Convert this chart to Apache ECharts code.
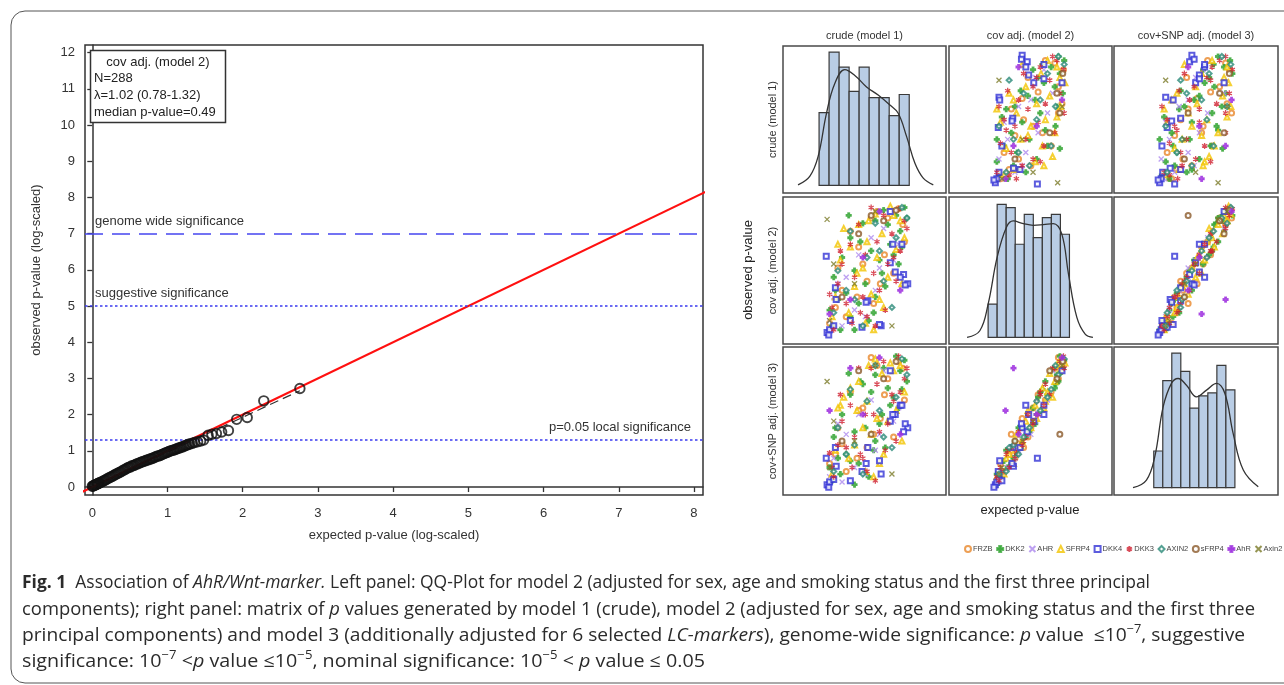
<!DOCTYPE html>
<html><head><meta charset="utf-8">
<script src="https://cdn.jsdelivr.net/npm/echarts@6/dist/echarts.min.js"></script>
<style>html,body{margin:0;padding:0;background:#fff}#c{width:1284px;height:685px}</style>
</head><body><div id="c"></div>
<script>
// ---------------- DATA ----------------
// QQ plot (model 2): expected vs observed -log10(p)
const qqExpected = [0.00,0.01,0.02,0.03,0.04,0.05,0.06,0.07,0.08,0.09,0.10,0.12,0.14,0.16,0.18,0.20,0.22,0.24,0.26,0.28,0.30,0.32,0.34,0.36,0.38,0.40,0.42,0.44,0.46,0.48,0.50,0.52,0.54,0.56,0.58,0.60,0.62,0.64,0.66,0.68,0.70,0.72,0.74,0.76,0.78,0.80,0.82,0.84,0.86,0.88,0.90,0.92,0.94,0.96,0.98,1.00,1.02,1.04,1.06,1.08,1.10,1.12,1.14,1.16,1.18,1.20,1.22,1.24,1.26,1.28,1.30,1.33,1.36,1.40,1.44,1.48,1.54,1.59,1.65,1.72,1.81,1.92,2.06,2.28,2.76];
const qqObserved = [0.02,0.03,0.04,0.05,0.06,0.07,0.08,0.09,0.10,0.11,0.12,0.14,0.16,0.18,0.20,0.23,0.25,0.27,0.29,0.31,0.34,0.36,0.38,0.40,0.42,0.45,0.47,0.49,0.52,0.54,0.55,0.58,0.59,0.60,0.63,0.64,0.66,0.68,0.69,0.71,0.72,0.74,0.75,0.77,0.78,0.79,0.82,0.83,0.85,0.86,0.87,0.89,0.91,0.93,0.95,0.96,0.98,1.00,1.01,1.02,1.04,1.05,1.07,1.08,1.10,1.11,1.13,1.15,1.16,1.18,1.19,1.21,1.23,1.25,1.27,1.30,1.43,1.46,1.48,1.52,1.56,1.87,1.92,2.38,2.72];
const qqXTicks = [0,1,2,3,4,5,6,7,8];
const qqYTicks = [0,1,2,3,4,5,6,7,8,9,10,11,12];
const identityLine = [[-0.2,-0.2],[8.4,8.4]];
const fitLine = [[0,0],[2.76,2.66]];
const genomeWideLevel = 7;
const suggestiveLevel = 5;
const localLevel = 1.3;
const infoLines = ['cov adj. (model 2)','N=288','λ=1.02 (0.78-1.32)','median p-value=0.49'];

// Histograms on the diagonal (counts per bin)
const hist1Counts = [24,44,39,31,39,29,29,23,30];
const hist2Counts = [10,40,39,28,37,30,36,37,31];
const hist3Counts = [12,35,44,38,26,30,31,40,32];
const dens1 = [[-2.10,0.2],[-0.93,3.0],[-0.10,9.5],[0.74,23.8],[1.57,33.6],[2.57,38.2],[3.57,36.3],[4.74,32.5],[5.90,29.8],[7.07,26.5],[7.90,23.8],[8.74,16.1],[9.57,7.3],[10.40,2.4],[11.40,0.2]];
const dens2 = [[-2.33,0],[-0.92,2.0],[0.00,10.0],[1.00,24.1],[2.04,33.2],[2.78,35.0],[3.89,34.2],[5.00,33.7],[6.10,33.9],[7.20,34.2],[8.15,31.1],[8.89,19.1],[9.82,6.0],[10.74,1.0],[11.60,0]];
const dens3 = [[-2.30,0],[-0.81,2.5],[0.11,10.1],[1.04,26.4],[1.96,34.1],[2.70,35.7],[3.63,33.5],[4.74,29.7],[5.85,31.9],[6.96,34.1],[7.89,30.8],[8.81,17.7],[9.93,5.8],[11.59,0.3]];

// Scatter matrix: each point = [model1, model2, model3] (rank-scaled p-values)
const modelNames = ['crude (model 1)','cov adj. (model 2)','cov+SNP adj. (model 3)'];
const groupNames = ['FRZB','DKK2','AHR','SFRP4','DKK4','DKK3','AXIN2','sFRP4','AhR','Axin2'];
const ptsFRZB = [[0.62,0.95,0.92],[0.55,0.90,0.98],[0.88,0.97,0.95],[0.93,0.85,0.90],[0.30,0.80,0.72],[0.71,0.62,0.70],[0.45,0.55,0.60],[0.82,0.48,0.38],[0.20,0.35,0.33],[0.38,0.30,0.22],[0.66,0.40,0.52],[0.12,0.22,0.25],[0.25,0.15,0.12],[0.50,0.42,0.30],[0.95,0.72,0.66],[0.40,0.68,0.58],[0.75,0.90,0.82],[0.15,0.52,0.45],[0.58,0.25,0.40],[0.05,0.10,0.18]];
const ptsDKK2 = [[0.95,0.98,0.96],[0.85,0.92,0.99],[0.70,0.96,0.90],[0.60,0.88,0.85],[0.90,0.80,0.88],[0.45,0.86,0.78],[0.30,0.75,0.70],[0.78,0.70,0.62],[0.55,0.65,0.72],[0.20,0.60,0.55],[0.65,0.58,0.48],[0.88,0.55,0.60],[0.35,0.50,0.42],[0.10,0.45,0.38],[0.48,0.40,0.45],[0.72,0.38,0.30],[0.25,0.33,0.25],[0.60,0.30,0.35],[0.15,0.28,0.22],[0.40,0.25,0.18],[0.05,0.20,0.15],[0.30,0.15,0.20],[0.52,0.12,0.08],[0.08,0.08,0.05],[0.18,0.05,0.10],[0.68,0.48,0.55],[0.82,0.62,0.68],[0.98,0.90,0.80],[0.42,0.72,0.80],[0.12,0.35,0.45],[0.58,0.18,0.28],[0.28,0.92,0.86],[0.75,0.85,0.75],[0.35,0.05,0.02],[0.92,0.68,0.74]];
const ptsAHR = [[0.70,0.82,0.88],[0.55,0.75,0.66],[0.82,0.58,0.50],[0.40,0.62,0.55],[0.25,0.45,0.40],[0.60,0.35,0.28],[0.10,0.30,0.22],[0.35,0.20,0.15],[0.05,0.12,0.08],[0.20,0.08,0.04],[0.48,0.15,0.10],[0.88,0.70,0.60],[0.15,0.40,0.48],[0.65,0.52,0.40],[0.02,0.02,0.01]];
const ptsSFRP4 = [[0.78,0.99,0.94],[0.60,0.93,0.97],[0.90,0.88,0.92],[0.40,0.85,0.80],[0.22,0.82,0.68],[0.68,0.78,0.86],[0.50,0.72,0.65],[0.85,0.66,0.58],[0.30,0.68,0.75],[0.62,0.60,0.52],[0.18,0.58,0.62],[0.45,0.52,0.45],[0.75,0.45,0.50],[0.92,0.40,0.35],[0.35,0.38,0.32],[0.55,0.32,0.40],[0.12,0.30,0.28],[0.70,0.22,0.25],[0.28,0.18,0.22],[0.48,0.10,0.12],[0.08,0.15,0.10],[0.58,0.05,0.08],[0.95,0.75,0.72],[0.82,0.92,0.88],[0.38,0.48,0.58],[0.65,0.28,0.18],[0.15,0.70,0.60],[0.52,0.88,0.92]];
const ptsDKK4 = [[0.99,0.40,0.45],[0.94,0.47,0.42],[0.78,0.95,0.88],[0.78,0.56,0.50],[0.67,0.08,0.10],[0.44,0.07,0.12],[0.51,0.27,0.30],[0.02,0.03,0.02],[0.05,0.05,0.04],[0.10,0.08,0.06],[0.01,0.61,0.22],[0.12,0.37,0.30],[0.04,0.01,0.00],[0.13,0.28,0.16],[0.84,0.49,0.55],[0.90,0.45,0.62],[0.96,0.39,0.48],[0.81,0.70,0.55],[0.49,0.26,0.18],[0.65,0.09,0.20],[0.30,0.12,0.05],[0.92,0.70,0.62]];
const ptsDKK3 = [[0.88,0.97,0.99],[0.70,0.92,0.95],[0.55,0.98,0.90],[0.95,0.88,0.82],[0.40,0.85,0.90],[0.80,0.78,0.70],[0.62,0.72,0.78],[0.30,0.70,0.62],[0.90,0.65,0.72],[0.48,0.62,0.55],[0.75,0.55,0.48],[0.20,0.55,0.50],[0.58,0.48,0.55],[0.35,0.45,0.38],[0.85,0.42,0.35],[0.15,0.40,0.32],[0.65,0.35,0.42],[0.45,0.30,0.22],[0.25,0.25,0.30],[0.72,0.20,0.28],[0.08,0.22,0.15],[0.50,0.15,0.12],[0.32,0.10,0.15],[0.10,0.05,0.08],[0.60,0.08,0.05],[0.98,0.82,0.90],[0.18,0.65,0.70],[0.42,0.18,0.25],[0.82,0.60,0.65],[0.05,0.32,0.26]];
const ptsAXIN2 = [[0.92,0.98,0.97],[0.60,0.86,0.92],[0.30,0.80,0.74],[0.85,0.75,0.68],[0.50,0.60,0.65],[0.15,0.50,0.45],[0.70,0.42,0.38],[0.35,0.28,0.32],[0.80,0.22,0.30],[0.10,0.18,0.12],[0.45,0.08,0.10],[0.65,0.65,0.58],[0.25,0.35,0.25],[0.98,0.90,0.85]];
const ptsSFRP4b = [[0.55,0.92,0.40],[0.85,0.96,0.95],[0.40,0.78,0.88],[0.70,0.88,0.82],[0.20,0.30,0.35]];
const ptsAhR = [[0.30,0.28,0.90],[0.05,0.17,0.58],[0.65,0.95,0.98],[0.45,0.60,0.55],[0.90,0.35,0.40]];
const ptsAxin2 = [[0.02,0.89,0.80],[0.60,0.95,0.92],[0.10,0.55,0.50],[0.05,0.12,0.15],[0.80,0.08,0.10],[0.35,0.40,0.35]];
const groupPoints = [ptsFRZB,ptsDKK2,ptsAHR,ptsSFRP4,ptsDKK4,ptsDKK3,ptsAXIN2,ptsSFRP4b,ptsAhR,ptsAxin2];

// ---------------- STYLE / LAYOUT ----------------
const groupColors = ['#e8872a','#3aa83a','#ad88ee','#f2c400','#3333d6','#d01f2f','#2a8a78','#8b5a2b','#a035e0','#7a7a28'];
const P_PLUS = 'path://M-1,-3L1,-3L1,-1L3,-1L3,1L1,1L1,3L-1,3L-1,1L-3,1L-3,-1L-1,-1Z';
const P_X = 'path://M-1,-1L1,1M1,-1L-1,1';
const P_AST = 'path://M0,-10L0,10M-8.66,-5L8.66,5M-8.66,5L8.66,-5';
const groupSymbols = ['emptyCircle',P_PLUS,P_X,'emptyTriangle','emptyRect',P_AST,'emptyDiamond','emptyCircle',P_PLUS,P_X];
const strokeOnly = [false,false,true,false,false,true,false,false,false,true];

const colLeft = [783,949,1114], colW = [163,163,164];
const rowTop = [46,197,347], rowH = [147,147,148];
const histX = [[-3.6,12.67],[-4.33,13.71],[-4.41,13.78]];
const histY = [[-2.5,46.0],[-1.99,42.2],[-2.38,46.0]];
const scatX = [[-0.51,1.45],[-0.61,1.64],[-0.59,1.6]];
const scatY = [-0.058,1.06];
const histCounts = [hist1Counts,hist2Counts,hist3Counts];
const densCurves = [dens1,dens2,dens3];

const FONT = '"Liberation Sans", Arial, sans-serif';
const chart = echarts.init(document.getElementById('c'), null, {renderer:'canvas'});

const grids = [{left:85, top:45, width:618, height:450, show:true, borderColor:'#333', borderWidth:1.5, backgroundColor:'#fff'}];
const xAxes = [{
  type:'value', gridIndex:0, min:-0.097, max:8.12,
  axisLine:{show:true, lineStyle:{color:'#333', width:1.5}},
  axisTick:{show:true, length:5, lineStyle:{color:'#333', width:1.3}, customValues: qqXTicks},
  axisLabel:{show:true, margin:12, fontSize:13, color:'#333', fontFamily:FONT, customValues: qqXTicks,
    formatter:v=> (Math.abs(v-Math.round(v))<1e-6 ? String(Math.round(v)) : '')},
  splitLine:{show:false},
  name:'expected p-value (log-scaled)', nameLocation:'middle', nameGap:34,
  nameTextStyle:{fontSize:13, color:'#333', fontFamily:FONT}
}];
const yAxes = [{
  type:'value', gridIndex:0, min:-0.22, max:12.21,
  axisLine:{show:true, lineStyle:{color:'#333', width:1.5}},
  axisTick:{show:true, length:5, lineStyle:{color:'#333', width:1.3}, customValues: qqYTicks},
  axisLabel:{show:true, margin:10, fontSize:13, color:'#333', fontFamily:FONT, customValues: qqYTicks,
    formatter:v=> (Math.abs(v-Math.round(v))<1e-6 ? String(Math.round(v)) : '')},
  splitLine:{show:false},
  name:'observed p-value (log-scaled)', nameLocation:'middle', nameGap:42,
  nameTextStyle:{fontSize:13, color:'#333', fontFamily:FONT}
}];

const series = [];
// reference lines
series.push({
  type:'line', xAxisIndex:0, yAxisIndex:0, data:[], silent:true,
  markLine:{symbol:'none', silent:true, animation:false,
    data:[
      {yAxis:genomeWideLevel, lineStyle:{color:'#4646f0', width:1.5, type:[18,9]},
       label:{formatter:'genome wide significance', position:'insideStartTop', distance:[10,6], color:'#333', fontSize:13, fontFamily:FONT}},
      {yAxis:suggestiveLevel, lineStyle:{color:'#3a3af0', width:1.5, type:[2.5,2.5]},
       label:{formatter:'suggestive significance', position:'insideStartTop', distance:[10,6], color:'#333', fontSize:13, fontFamily:FONT}},
      {yAxis:localLevel, lineStyle:{color:'#3a3af0', width:1.5, type:[2.5,2.5]},
       label:{formatter:'p=0.05 local significance', position:'insideEndTop', distance:[12,6], color:'#333', fontSize:13, fontFamily:FONT}}
    ]}
});
series.push({type:'line', xAxisIndex:0, yAxisIndex:0, data:fitLine, symbol:'none', silent:true,
  lineStyle:{color:'#333', width:1.2, type:[9,5]}, z:3});
series.push({type:'line', xAxisIndex:0, yAxisIndex:0, data:identityLine, symbol:'none', silent:true, clip:true,
  lineStyle:{color:'#ff1010', width:2.2}, z:4});
series.push({type:'scatter', xAxisIndex:0, yAxisIndex:0, symbol:'circle', symbolSize:9.5,
  data: qqExpected.map((e,i)=>[e, qqObserved[i]]),
  itemStyle:{color:'rgba(0,0,0,0)', borderColor:'#111', borderWidth:1.9}, z:5, silent:true});

// matrix
for (let r=0;r<3;r++){
  for (let c=0;c<3;c++){
    const gi = grids.length;
    grids.push({left:colLeft[c], top:rowTop[r], width:colW[c], height:rowH[r], show:true, borderColor:'#4a4a4a', borderWidth:1.5, backgroundColor:'#fff'});
    if (r===c){
      xAxes.push({type:'value', gridIndex:gi, min:histX[r][0], max:histX[r][1], show:false});
      yAxes.push({type:'value', gridIndex:gi, min:histY[r][0], max:histY[r][1], show:false});
      series.push({type:'custom', xAxisIndex:gi, yAxisIndex:gi, silent:true,
        data: histCounts[r].map((v,i)=>[i,v]),
        renderItem:(params, api)=>{
          const i = api.value(0), v = api.value(1);
          const p0 = api.coord([i,0]), p1 = api.coord([i+1,v]);
          return {type:'rect', shape:{x:p0[0], y:p1[1], width:p1[0]-p0[0], height:p0[1]-p1[1]},
            style:{fill:'#b9cde5', stroke:'#3a3a3a', lineWidth:1.2}};
        }});
      series.push({type:'line', xAxisIndex:gi, yAxisIndex:gi, data:densCurves[r], smooth:0.4, symbol:'none', silent:true,
        lineStyle:{color:'#333', width:1.3}, z:4});
    } else {
      xAxes.push({type:'value', gridIndex:gi, min:scatX[c][0], max:scatX[c][1], show:false});
      yAxes.push({type:'value', gridIndex:gi, min:scatY[0], max:scatY[1], show:false});
      groupNames.forEach((g,k)=>{
        const col = groupColors[k];
        series.push({type:'scatter', name:g, xAxisIndex:gi, yAxisIndex:gi, silent:true,
          symbol:groupSymbols[k], symbolSize: groupSymbols[k]===P_AST?6:5, symbolKeepAspect:true,
          data: groupPoints[k].map(p=>[p[c], p[r]]),
          itemStyle:{color: col, borderColor: col, borderWidth: strokeOnly[k]?1.3:1.2}});
      });
    }
  }
}

// graphic: frame, info box, matrix labels, caption
const graphics = [];
graphics.push({type:'rect', shape:{x:11, y:11, width:1320, height:672, r:14}, style:{fill:'none', stroke:'#555', lineWidth:1}, z:-10, silent:true});
// info box
graphics.push({type:'rect', shape:{x:90.5, y:50.5, width:135, height:72}, style:{fill:'#fff', stroke:'#333', lineWidth:1.5}, z:20});
graphics.push({type:'text', x:158, y:62, style:{text:infoLines[0], font:'13px '+FONT, fill:'#222', align:'center', verticalAlign:'middle'}, z:21});
for (let i=1;i<4;i++) graphics.push({type:'text', x:94, y:62+i*16.7, style:{text:infoLines[i], font:'13px '+FONT, fill:'#222', align:'left', verticalAlign:'middle'}, z:21});
// column titles & row titles
for (let k=0;k<3;k++){
  graphics.push({type:'text', x:colLeft[k]+colW[k]/2, y:36, style:{text:modelNames[k], font:'11px '+FONT, fill:'#333', align:'center', verticalAlign:'middle'}});
  graphics.push({type:'text', x:773, y:rowTop[k]+rowH[k]/2, rotation:Math.PI/2, style:{text:modelNames[k], font:'11px '+FONT, fill:'#333', align:'center', verticalAlign:'middle'}});
}
graphics.push({type:'text', x:748, y:270, rotation:Math.PI/2, style:{text:'observed p-value', font:'13px '+FONT, fill:'#222', align:'center', verticalAlign:'middle'}});
graphics.push({type:'text', x:1030, y:510, style:{text:'expected p-value', font:'13px '+FONT, fill:'#222', align:'center', verticalAlign:'middle'}});

// caption
const CAP = '"Open Sans", "Noto Sans", sans-serif';
const capLines = [
  {y:583, w:1128, segs:[['Fig. 1','b'],['  Association of ',''],['AhR/Wnt-marker.','i'],[' Left panel: QQ-Plot for model 2 (adjusted for sex, age and smoking status and the first three principal','']]},
  {y:610, w:1233, segs:[['components); right panel: matrix of ',''],['p','i'],[' values generated by model 1 (crude), model 2 (adjusted for sex, age and smoking status and the first three','']]},
  {y:636, w:1223, segs:[['principal components) and model 3 (additionally adjusted for 6 selected ',''],['LC-markers','i'],['), genome-wide significance: ',''],['p','i'],[' value  \u226410',''],['\u22127','s'],[', suggestive','']]},
  {y:662, w:683, segs:[['significance: 10',''],['\u22127','s'],[' <',''],['p','i'],[' value \u226410',''],['\u22125','s'],[', nominal significance: 10',''],['\u22125','s'],[' < ',''],['p','i'],[' value \u2264 0.05','']]}
];
const mctx = document.createElement('canvas').getContext('2d');
capLines.forEach(L=>{
  let x = 0; const kids = [];
  L.segs.forEach(([t,f])=>{
    const font = (f==='i'?'italic ':'') + (f==='b'?'bold ':'') + (f==='s'?'12px ':'18px ') + CAP;
    mctx.font = font;
    const w = mctx.measureText(t).width;
    kids.push({type:'text', x:x, y:(f==='s'?-6:0), style:{text:t, font:font, fill:'#2b2b2b', align:'left', verticalAlign:'middle'}});
    x += w;
  });
  graphics.push({type:'group', x:22, y:L.y, scaleX:L.w/x, scaleY:1, children:kids});
});

chart.setOption({
  animation:false,
  backgroundColor:'#fff',
  grid:grids, xAxis:xAxes, yAxis:yAxes, series:series,
  legend:{data:groupNames, left:964, top:545, width:330, itemWidth:6, itemHeight:6, itemGap:3.6, padding:0,
    textStyle:{fontSize:7.5, color:'#444', fontFamily:FONT, padding:[0,0,0,-3]}, selectedMode:false},
  graphic:{elements:graphics}
});
</script></body></html>
